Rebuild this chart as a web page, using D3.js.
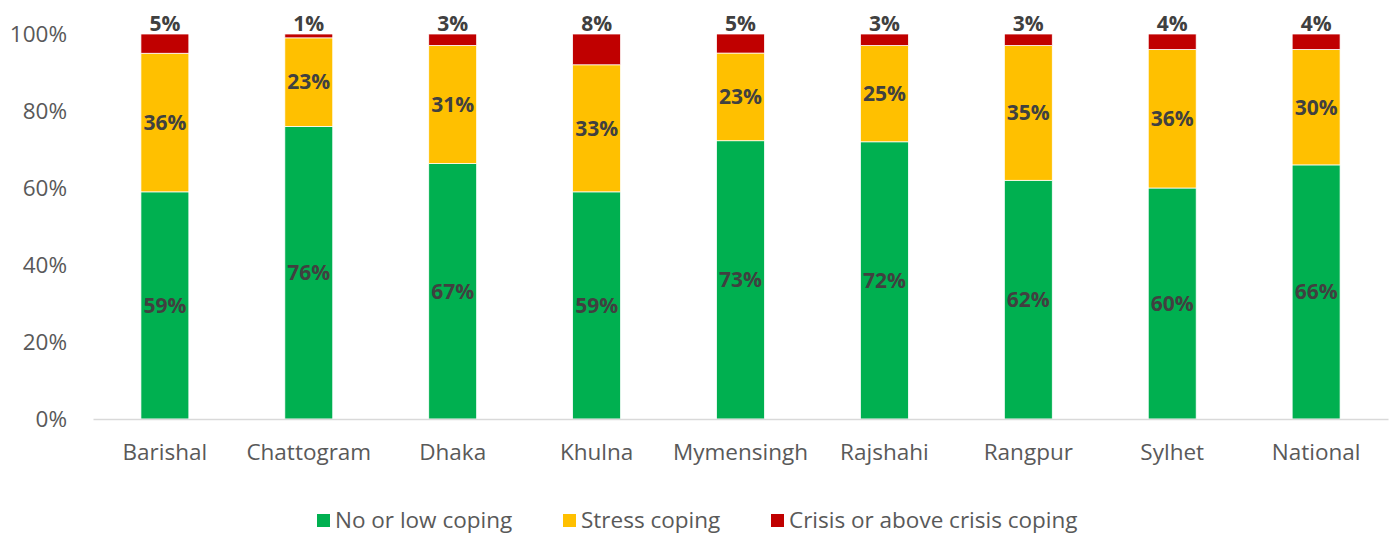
<!DOCTYPE html>
<html><head><meta charset="utf-8">
<script src="https://cdn.jsdelivr.net/npm/d3@7"></script>
<style>body{margin:0;background:#fff;} text{font-family:"Open Sans", sans-serif;}</style>
</head><body>
<svg id="c" width="1395" height="535"></svg>
<script>
const categories = ["Barishal","Chattogram","Dhaka","Khulna","Mymensingh","Rajshahi","Rangpur","Sylhet","National"];
const seriesNames = ["No or low coping","Stress coping","Crisis or above crisis coping"];
const noLow   = [59,76,67,59,73,72,62,60,66];
const stress  = [36,23,31,33,23,25,35,36,30];
const crisis  = [5,1,3,8,5,3,3,4,4];
const yTicks = [0,0.2,0.4,0.6,0.8,1.0];
const colors = ["#00B050","#FFC000","#C00000"];

const FONT = "'Open Sans', sans-serif";
const svg = d3.select("#c");
const m = {left:93, right:1388, top:34, bottom:419};
const x = d3.scaleBand().domain(categories).range([m.left, m.right]).paddingInner(0.667).paddingOuter(0.333);
const y = d3.scaleLinear().domain([0,1]).range([m.bottom, m.top]);

const rows = categories.map((c,i)=>({cat:c, s0:noLow[i], s1:stress[i], s2:crisis[i]}));
const stack = d3.stack().keys(["s0","s1","s2"]).offset(d3.stackOffsetExpand);
const layers = stack(rows);
const labelVals = [noLow, stress, crisis];

// y axis labels
const yAxis = d3.axisLeft(y).tickValues(yTicks).tickFormat(d3.format(".0%")).tickSize(0).tickPadding(26);
const ga = svg.append("g").attr("transform",`translate(${m.left},0)`).call(yAxis);
ga.select(".domain").remove();
ga.selectAll("text").attr("fill","#595959").style("font-size","22.5px").style("font-family",FONT);

// bars
layers.forEach((layer,k)=>{
  svg.append("g").selectAll("rect").data(layer).join("rect")
    .attr("x", d=>x(d.data.cat)).attr("width", x.bandwidth())
    .attr("y", d=>y(d[1])).attr("height", d=>y(d[0])-y(d[1]))
    .attr("fill", colors[k]).attr("stroke","#fff").attr("stroke-width",0.75);
});

// x axis
const xAxis = d3.axisBottom(x).tickSize(0).tickPadding(25);
const gx = svg.append("g").attr("transform",`translate(0,${m.bottom})`).call(xAxis);
gx.select(".domain").attr("stroke","#d9d9d9").attr("stroke-width",1.5);
gx.selectAll("text").attr("fill","#595959").style("font-size","22.5px").style("font-family",FONT);

// labels
layers.forEach((layer,k)=>{
  svg.append("g").selectAll("text").data(layer).join("text")
    .attr("x", d=>x(d.data.cat)+x.bandwidth()/2)
    .attr("y", d=> k<2 ? (y(d[0])+y(d[1]))/2 : y(1)-3)
    .attr("dy", k<2 ? "0.35em" : "0")
    .attr("text-anchor","middle")
    .attr("fill","#404040").style("font-size","21px").style("font-weight","bold").style("font-family",FONT)
    .text((d,i)=>labelVals[k][i]+"%");
});

// legend
const legX = [317, 563, 771];
const lg = svg.append("g");
seriesNames.forEach((n,i)=>{
  lg.append("rect").attr("x",legX[i]).attr("y",514).attr("width",13).attr("height",13).attr("fill",colors[i]);
  lg.append("text").attr("x",legX[i]+18).attr("y",527.5).attr("fill","#595959")
    .style("font-size","22.5px").style("font-family",FONT).text(n);
});
</script>
</body></html>
